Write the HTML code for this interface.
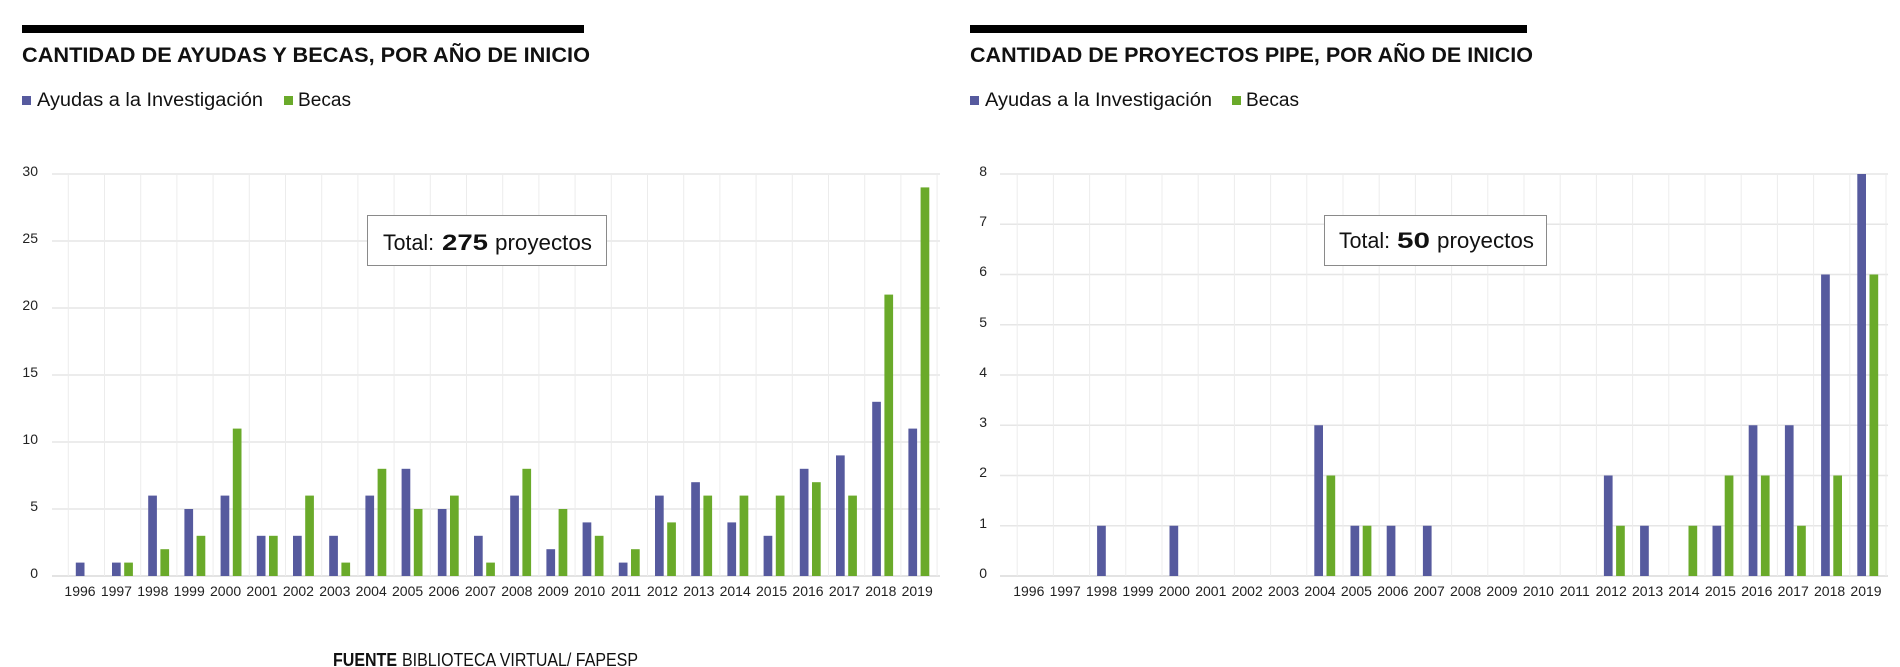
<!DOCTYPE html>
<html><head><meta charset="utf-8"><style>
html,body{margin:0;padding:0;background:#fff;}
svg{display:block;font-family:"Liberation Sans",sans-serif;}
</style></head><body>
<svg id="s" width="1900" height="667" viewBox="0 0 1900 667" xmlns="http://www.w3.org/2000/svg">
<rect x="0" y="0" width="1900" height="667" fill="#fff"/>
<g id="grid"></g>
<g id="bars"></g>
<!-- headers -->
<rect x="22" y="25" width="562" height="8" fill="#000"/>
<rect x="970" y="25" width="557" height="8" fill="#000"/>
<text x="22" y="62" font-size="21" font-weight="bold" textLength="568" lengthAdjust="spacingAndGlyphs" fill="#111">CANTIDAD DE AYUDAS Y BECAS, POR AÑO DE INICIO</text>
<text x="970" y="62" font-size="21" font-weight="bold" textLength="563" lengthAdjust="spacingAndGlyphs" fill="#111">CANTIDAD DE PROYECTOS PIPE, POR AÑO DE INICIO</text>
<rect x="22" y="96" width="9" height="9" fill="#565a9e"/>
<text x="37" y="106" font-size="19" textLength="226" lengthAdjust="spacingAndGlyphs" fill="#111">Ayudas a la Investigación</text>
<rect x="284" y="96" width="9" height="9" fill="#6aaa2a"/>
<text x="298" y="106" font-size="19" textLength="53" lengthAdjust="spacingAndGlyphs" fill="#111">Becas</text>
<rect x="970" y="96" width="9" height="9" fill="#565a9e"/>
<text x="985" y="106" font-size="19" textLength="227" lengthAdjust="spacingAndGlyphs" fill="#111">Ayudas a la Investigación</text>
<rect x="1232" y="96" width="9" height="9" fill="#6aaa2a"/>
<text x="1246" y="106" font-size="19" textLength="53" lengthAdjust="spacingAndGlyphs" fill="#111">Becas</text>
<!-- y labels -->
<g font-size="14" text-anchor="end" fill="#222">
<text x="38" y="578">0</text><text x="38" y="511">5</text><text x="38" y="444">10</text><text x="38" y="377">15</text><text x="38" y="310">20</text><text x="38" y="243">25</text><text x="38" y="176">30</text>
<text x="987" y="578">0</text><text x="987" y="528">1</text><text x="987" y="477">2</text><text x="987" y="427">3</text><text x="987" y="377">4</text><text x="987" y="327">5</text><text x="987" y="276">6</text><text x="987" y="226">7</text><text x="987" y="176">8</text>
</g>
<!-- x labels -->
<g font-size="14" text-anchor="middle" fill="#222">
<text x="80" y="596">1996</text><text x="116.4" y="596">1997</text><text x="152.8" y="596">1998</text><text x="189.2" y="596">1999</text><text x="225.6" y="596">2000</text><text x="262" y="596">2001</text><text x="298.4" y="596">2002</text><text x="334.8" y="596">2003</text><text x="371.2" y="596">2004</text><text x="407.6" y="596">2005</text><text x="444" y="596">2006</text><text x="480.4" y="596">2007</text><text x="516.8" y="596">2008</text><text x="553.2" y="596">2009</text><text x="589.6" y="596">2010</text><text x="626" y="596">2011</text><text x="662.4" y="596">2012</text><text x="698.8" y="596">2013</text><text x="735.2" y="596">2014</text><text x="771.6" y="596">2015</text><text x="808" y="596">2016</text><text x="844.4" y="596">2017</text><text x="880.8" y="596">2018</text><text x="917.2" y="596">2019</text>
<text x="1028.8" y="596">1996</text><text x="1065.2" y="596">1997</text><text x="1101.6" y="596">1998</text><text x="1138" y="596">1999</text><text x="1174.4" y="596">2000</text><text x="1210.8" y="596">2001</text><text x="1247.2" y="596">2002</text><text x="1283.6" y="596">2003</text><text x="1320" y="596">2004</text><text x="1356.4" y="596">2005</text><text x="1392.8" y="596">2006</text><text x="1429.2" y="596">2007</text><text x="1465.6" y="596">2008</text><text x="1502" y="596">2009</text><text x="1538.4" y="596">2010</text><text x="1574.8" y="596">2011</text><text x="1611.2" y="596">2012</text><text x="1647.6" y="596">2013</text><text x="1684" y="596">2014</text><text x="1720.4" y="596">2015</text><text x="1756.8" y="596">2016</text><text x="1793.2" y="596">2017</text><text x="1829.6" y="596">2018</text><text x="1866" y="596">2019</text>
</g>
<!-- total boxes -->
<rect x="367.5" y="215.5" width="239" height="50" fill="#fff" stroke="#8a8a8a" stroke-width="1"/>
<text x="383" y="250" font-size="22" textLength="51" lengthAdjust="spacingAndGlyphs" fill="#111">Total:</text>
<text x="442" y="250" font-size="22" font-weight="bold" textLength="46" lengthAdjust="spacingAndGlyphs" fill="#111">275</text>
<text x="495" y="250" font-size="22" textLength="97" lengthAdjust="spacingAndGlyphs" fill="#111">proyectos</text>
<rect x="1324.5" y="215.5" width="222" height="50" fill="#fff" stroke="#8a8a8a" stroke-width="1"/>
<text x="1339" y="248" font-size="22" textLength="51" lengthAdjust="spacingAndGlyphs" fill="#111">Total:</text>
<text x="1397" y="248" font-size="22" font-weight="bold" textLength="33" lengthAdjust="spacingAndGlyphs" fill="#111">50</text>
<text x="1437" y="248" font-size="22" textLength="97" lengthAdjust="spacingAndGlyphs" fill="#111">proyectos</text>
<!-- source -->
<text x="333" y="666" font-size="18" font-weight="bold" textLength="64" lengthAdjust="spacingAndGlyphs" fill="#111">FUENTE</text>
<text x="402" y="666" font-size="18" textLength="236" lengthAdjust="spacingAndGlyphs" fill="#111">BIBLIOTECA VIRTUAL/ FAPESP</text>
</svg>
<script>
(function(){
var NS="http://www.w3.org/2000/svg";
var grid=document.getElementById("grid"),bars=document.getElementById("bars");
function el(p,t,a){var e=document.createElementNS(NS,t);for(var k in a)e.setAttribute(k,a[k]);p.appendChild(e);return e;}
function chart(x0,catStart,xEnd,yTop,yZero,max,step,blue,green){
  var sp=36.2,unit=(yZero-yTop)/max;
  for(var v=0;v<=max;v+=step){var y=yZero-v*unit;el(grid,"line",{x1:x0,x2:xEnd,y1:y,y2:y,stroke:v==0?"#dadada":"#e6e6e6","stroke-width":1.5});}
  for(var i=0;i<=24;i++){var x=catStart+i*sp;el(grid,"line",{x1:x,x2:x,y1:yTop,y2:yZero,stroke:"#ececec","stroke-width":1});}
  for(var i=0;i<24;i++){var cx=catStart+i*sp;
    if(blue[i]>0){var h=blue[i]*unit;el(bars,"rect",{x:cx+7.5,y:yZero-h,width:8.7,height:h,fill:"#565a9e"});}
    if(green[i]>0){var h=green[i]*unit;el(bars,"rect",{x:cx+19.7,y:yZero-h,width:8.7,height:h,fill:"#6aaa2a"});}
  }
}
chart(52,68.3,940,174,576,30,5,
[1,1,6,5,6,3,3,3,6,8,5,3,6,2,4,1,6,7,4,3,8,9,13,11],
[0,1,2,3,11,3,6,1,8,5,6,1,8,5,3,2,4,6,6,6,7,6,21,29]);
chart(1000,1017.2,1888,174,576,8,1,
[0,0,1,0,1,0,0,0,3,1,1,1,0,0,0,0,2,1,0,1,3,3,6,8],
[0,0,0,0,0,0,0,0,2,1,0,0,0,0,0,0,1,0,1,2,2,1,2,6]);
})();
</script>
</body></html>
